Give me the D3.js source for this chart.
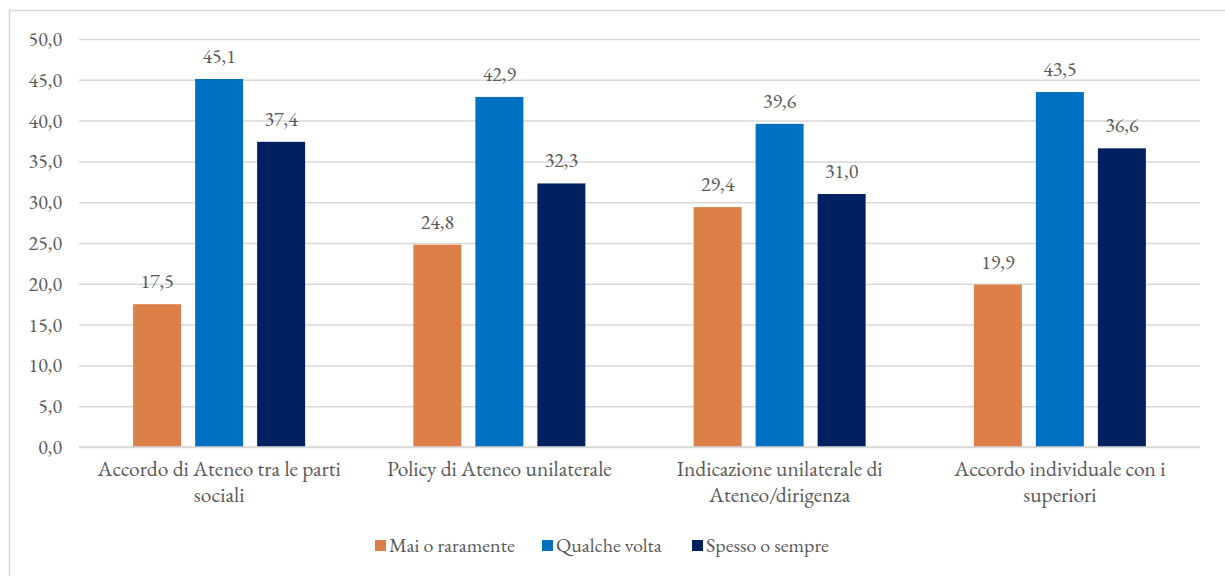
<!DOCTYPE html>
<html>
<head>
<meta charset="utf-8">
<script src="https://cdn.jsdelivr.net/npm/d3@7"></script>
<style>
  html, body { margin: 0; padding: 0; background: #fff; }
  svg { display: block; }
</style>
</head>
<body>
<svg id="chart" width="1225" height="576"></svg>
<script>
const categories = [
  "Accordo di Ateneo tra le parti sociali",
  "Policy di Ateneo unilaterale",
  "Indicazione unilaterale di Ateneo/dirigenza",
  "Accordo individuale con i superiori"
];
const seriesNames = ["Mai o raramente", "Qualche volta", "Spesso o sempre"];
const maiValues = [17.5, 24.8, 29.4, 19.9];
const qualcheValues = [45.1, 42.9, 39.6, 43.5];
const spessoValues = [37.4, 32.3, 31.0, 36.6];
const seriesColors = ["#DD7F48", "#0070C0", "#002060"];
const yTicks = [0, 5, 10, 15, 20, 25, 30, 35, 40, 45, 50];

const FONT = "'EB Garamond', 'Liberation Serif', serif";
const FS = "20px";
const TXT = "#595959";

const seriesValues = [maiValues, qualcheValues, spessoValues];
const fmt = v => d3.format(".1f")(v).replace(".", ",");

function styleText(sel, size) {
  return sel.style("font-family", FONT).style("font-size", size || FS)
    .style("font-variant-numeric", "lining-nums")
    .style("font-feature-settings", "'lnum' 1")
    .attr("fill", TXT);
}

const svg = d3.select("#chart");
const W = 1225, H = 576;
const plot = { left: 79, right: 1200, top: 39, bottom: 447 };

// outer border
svg.append("rect")
  .attr("x", 9.5).attr("y", 10.5)
  .attr("width", W).attr("height", H)
  .attr("fill", "none").attr("stroke", "#d9d9d9").attr("stroke-width", 1.5);

const y = d3.scaleLinear().domain([0, 50]).range([plot.bottom, plot.top]);
const x0 = d3.scaleBand().domain(categories).range([plot.left, plot.right]).padding(0);
const inner = 172;
const off = (x0.bandwidth() - inner) / 2;
const x1 = d3.scaleBand().domain(seriesNames)
  .range([off, off + inner]).paddingInner(0.226).paddingOuter(0);

// gridlines
const yAxis = d3.axisLeft(y).tickValues(yTicks)
  .tickSize(-(plot.right - plot.left)).tickFormat(fmt).tickPadding(17);
const gy = svg.append("g").attr("transform", `translate(${plot.left},0)`).call(yAxis);
gy.select(".domain").remove();
gy.selectAll(".tick line").attr("stroke", "#d9d9d9").attr("stroke-width", 1.5);
styleText(gy.selectAll(".tick text"));

// bars
const groups = svg.append("g").selectAll("g").data(categories).join("g")
  .attr("transform", d => `translate(${x0(d)},0)`);

groups.selectAll("rect")
  .data((c, i) => seriesNames.map((s, j) => ({ s, j, v: seriesValues[j][i] })))
  .join("rect")
  .attr("x", d => x1(d.s))
  .attr("y", d => y(d.v))
  .attr("width", x1.bandwidth())
  .attr("height", d => y(0) - y(d.v))
  .attr("fill", d => seriesColors[d.j]);

styleText(groups.selectAll("text.val")
  .data((c, i) => seriesNames.map((s, j) => ({ s, j, v: seriesValues[j][i] })))
  .join("text").attr("class", "val")
  .attr("x", d => x1(d.s) + x1.bandwidth() / 2)
  .attr("y", d => y(d.v) - 16)
  .attr("text-anchor", "middle")
  .text(d => fmt(d.v)));

// baseline
svg.append("line")
  .attr("x1", plot.left).attr("x2", plot.right)
  .attr("y1", y(0)).attr("y2", y(0))
  .attr("stroke", "#d9d9d9").attr("stroke-width", 1.5);

// category labels with wrapping
const xAxis = d3.axisBottom(x0).tickSize(0).tickPadding(0);
const gx = svg.append("g").attr("transform", `translate(0,${plot.bottom})`).call(xAxis);
gx.select(".domain").remove();
gx.selectAll(".tick text").each(function(d) {
  const t = d3.select(this);
  styleText(t.text(null).attr("y", 0).attr("dy", null), "21.5px");
  const words = d.split(" ");
  const maxW = 268;
  let lines = [], line = [];
  const probe = t.append("tspan");
  words.forEach(w => {
    line.push(w);
    probe.text(line.join(" "));
    if (probe.node().getComputedTextLength() > maxW && line.length > 1) {
      line.pop();
      lines.push(line.join(" "));
      line = [w];
    }
  });
  lines.push(line.join(" "));
  probe.remove();
  lines.forEach((l, i) => {
    t.append("tspan").attr("x", 0).attr("y", 29 + i * 26).text(l);
  });
});

// legend
const legendY = 546;
const legendX = [375, 542, 692];
const lg = svg.append("g").selectAll("g").data(seriesNames).join("g")
  .attr("transform", (d, i) => `translate(${legendX[i]},${legendY})`);
lg.append("rect").attr("x", 0).attr("y", -6).attr("width", 11).attr("height", 11)
  .attr("fill", (d, i) => seriesColors[i]);
styleText(lg.append("text").attr("x", 14).attr("y", 6)).text(d => d);
</script>
</body>
</html>
